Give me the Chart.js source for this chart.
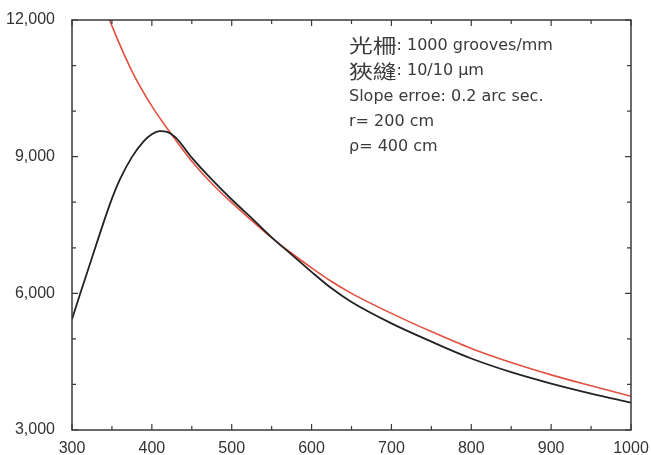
<!DOCTYPE html>
<html lang="zh-Hant">
<head>
    <meta charset="UTF-8">
    <title>光柵 效率</title>
    <script src="https://cdn.jsdelivr.net/npm/chart.js@4.4.1/dist/chart.umd.min.js"></script>
</head>
<style>
    html, body { margin: 0; padding: 0; background: #fff; }
    #wrap { width: 651px; height: 455px; }
</style>
<body>
    <div id="wrap"><canvas id="myCanvas" width="651" height="455"></canvas></div>

    <script>
        // wavelength (x) and curve values (y)
        const blackX = [300, 310, 325, 340, 350, 360, 375, 390, 400, 410, 420, 430, 450, 475, 500, 525, 550, 575, 600, 625, 650, 700, 750, 800, 850, 900, 950, 1000];
        const blackY = [5430, 5980, 6780, 7580, 8080, 8500, 8990, 9340, 9490, 9560, 9540, 9420, 8980, 8500, 8060, 7650, 7230, 6850, 6470, 6110, 5810, 5340, 4940, 4570, 4270, 4020, 3800, 3600];

        const redX = [340, 350, 375, 400, 425, 450, 475, 500, 525, 550, 575, 600, 625, 650, 700, 750, 800, 850, 900, 950, 1000];
        const redY = [12330, 11870, 10880, 10110, 9480, 8900, 8410, 7990, 7600, 7220, 6880, 6560, 6260, 6000, 5560, 5160, 4790, 4480, 4210, 3970, 3740];

        const xMajor = [300, 400, 500, 600, 700, 800, 900, 1000];
        const xMinor = [350, 450, 550, 650, 750, 850, 950];
        const yMajor = [3000, 6000, 9000, 12000];
        const yMinor = [4000, 5000, 7000, 8000, 10000, 11000];

        // text block: [chinese part, rest]
        const notes = [['光柵', ': 1000 grooves/mm'], ['狹縫', ': 10/10 μm'], ['', 'Slope erroe: 0.2 arc sec.'], ['', 'r= 200 cm'], ['', 'ρ= 400 cm']];

        const toPts = (xs, ys) => xs.map((x, i) => ({x: x, y: ys[i]}));

        // frame with inward ticks on all four sides + the text block
        const framePlugin = {
            id: 'frame',
            afterDraw(chart) {
                const c = chart.ctx, a = chart.chartArea;
                const xs = chart.scales.x, ys = chart.scales.y;
                c.save();
                c.strokeStyle = '#3a3a3a';
                c.lineWidth = 1.5;
                c.strokeRect(a.left, a.top, a.right - a.left, a.bottom - a.top);
                c.lineWidth = 1.2;
                c.beginPath();
                const xt = (v, len) => {
                    const p = xs.getPixelForValue(v);
                    c.moveTo(p, a.bottom); c.lineTo(p, a.bottom - len);
                    c.moveTo(p, a.top); c.lineTo(p, a.top + len);
                };
                const yt = (v, len) => {
                    const p = ys.getPixelForValue(v);
                    c.moveTo(a.left, p); c.lineTo(a.left + len, p);
                    c.moveTo(a.right, p); c.lineTo(a.right - len, p);
                };
                xMajor.forEach(v => xt(v, 6));
                xMinor.forEach(v => xt(v, 4));
                yMajor.forEach(v => yt(v, 6));
                yMinor.forEach(v => yt(v, 4));
                c.stroke();

                c.fillStyle = '#3a3a3a';
                c.textBaseline = 'middle';
                notes.forEach((t, i) => {
                    let x = 349;
                    const y = 46 + i * 25.3;
                    if (t[0]) {
                        c.font = '19px "Noto Sans CJK TC", sans-serif';
                        c.save();
                        c.translate(x, y);
                        c.scale(1.25, 1);
                        c.fillText(t[0], 0, 0);
                        c.restore();
                        x += c.measureText(t[0]).width * 1.25;
                    }
                    c.font = '16px "DejaVu Sans", sans-serif';
                    c.fillText(t[1], x, y);
                });
                c.restore();
            }
        };

        const ctx = document.getElementById('myCanvas').getContext('2d');
        const myChart = new Chart(ctx, {
            type: 'line',
            data: {
                datasets: [{
                    label: 'black',
                    data: toPts(blackX, blackY),
                    borderColor: '#222222',
                    borderWidth: 1.8,
                    pointRadius: 0,
                    fill: false,
                    cubicInterpolationMode: 'monotone'
                }, {
                    label: 'red',
                    data: toPts(redX, redY),
                    borderColor: '#e2503f',
                    borderWidth: 1.6,
                    pointRadius: 0,
                    fill: false,
                    cubicInterpolationMode: 'monotone'
                }]
            },
            options: {
                responsive: false,
                animation: false,
                layout: { padding: { top: 20, right: 20, left: 0, bottom: 0 } },
                plugins: { legend: { display: false }, tooltip: { enabled: false } },
                scales: {
                    x: {
                        type: 'linear',
                        min: 300, max: 1000,
                        grid: { display: false },
                        border: { display: false },
                        afterFit(s) { s.height = 25; },
                        ticks: {
                            stepSize: 100,
                            padding: 1,
                            color: '#333',
                            font: { family: '"Liberation Sans", sans-serif', size: 16 },
                            maxRotation: 0,
                            callback: v => String(v)
                        }
                    },
                    y: {
                        min: 3000, max: 12000,
                        grid: { display: false },
                        border: { display: false },
                        afterFit(s) { s.width = 72; },
                        afterBuildTicks(s) { s.ticks = yMajor.map(v => ({value: v})); },
                        ticks: {
                            padding: 9,
                            color: '#333',
                            font: { family: '"Liberation Sans", sans-serif', size: 16 },
                            callback: v => v.toLocaleString('en-US')
                        }
                    }
                }
            },
            plugins: [framePlugin]
        });
    </script>
</body>
</html>
